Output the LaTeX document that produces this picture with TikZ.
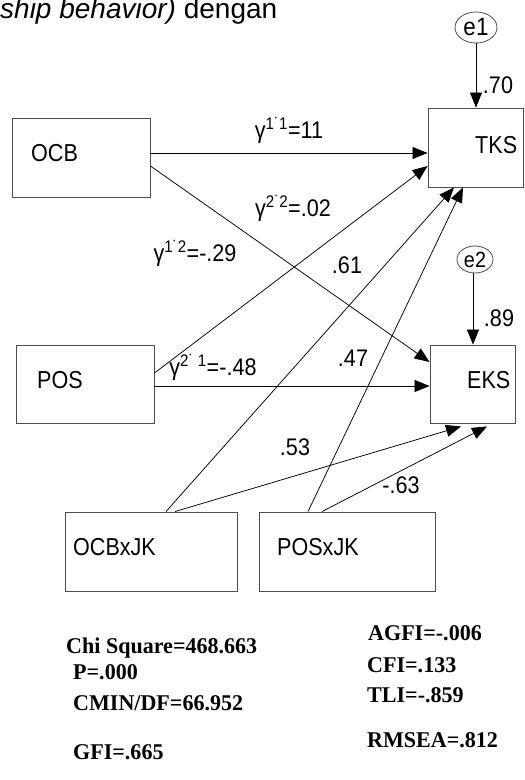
\documentclass[tikz,border=0pt]{standalone}
\usepackage{fontspec}
\usepackage{graphicx}
\setmainfont{Liberation Sans}
\newfontfamily\statfont{Liberation Serif}
\usetikzlibrary{arrows.meta,shapes.geometric}
\newcommand\lbl[1]{{\fontsize{24}{24}\selectfont\scalebox{0.9}[1]{#1}}}
\newcommand\bxt[1]{{\fontsize{24.5}{24.5}\selectfont\scalebox{0.88}[1]{#1}}}
\newcommand\stt[1]{{\statfont\bfseries\fontsize{22.5}{22.5}\selectfont\scalebox{0.98}[1]{#1}}}
\tikzset{
  box/.style={draw=black!70,line width=0.9pt,rectangle,inner sep=0pt},
  err/.style={draw=black!70,line width=0.8pt,ellipse,inner sep=0pt},
  conn/.style={line width=0.75pt,-{Triangle[length=15pt,width=12pt]}},
  txt/.style={inner sep=0pt,anchor=west},
  lab/.style={inner sep=0pt}
}
\begin{document}
\begin{tikzpicture}[x=1pt,y=-1pt]
\useasboundingbox[fill=white] (0,0) rectangle (525,780);
% title fragment
\node[inner sep=0pt,anchor=base west] (title) at (0,18) {\fontsize{28}{28}\selectfont\itshape ship behavior)\upshape{} dengan};
% boxes
\node[box,minimum width=138pt,minimum height=79pt] (ocb) at (81,157.5) {};
\node[box,minimum width=95pt,minimum height=79pt] (tks) at (475.5,147.5) {};
\node[box,minimum width=138pt,minimum height=78pt] (pos) at (85,384) {};
\node[box,minimum width=85pt,minimum height=78pt] (eks) at (472.5,384) {};
\node[box,minimum width=172pt,minimum height=79pt] (ocbjk) at (151,551.5) {};
\node[box,minimum width=176pt,minimum height=79pt] (posjk) at (347,551.5) {};
% box texts
\node[txt] (tocb) at (31,153) {\bxt{OCB}};
\node[txt] (ttks) at (475,145) {\bxt{TKS}};
\node[txt] (tpos) at (37,380) {\bxt{POS}};
\node[txt] (teks) at (467,380) {\bxt{EKS}};
\node[txt] (tocbjk) at (73,547) {\bxt{OCBxJK}};
\node[txt] (tposjk) at (277,547) {\bxt{POSxJK}};
% error terms
\node[err,minimum width=42pt,minimum height=31pt] (e1) at (476,27.5) {\fontsize{25}{25}\selectfont\scalebox{0.9}[1]{e1}};
\node[err,minimum width=36pt,minimum height=27pt] (e2) at (475,259.5) {\fontsize{22}{22}\selectfont\scalebox{0.9}[1]{e2}};
\draw[conn] (e1.south) -- (tks.north -| e1.south);
\draw[conn] (e2.south -| 473,0) -- (eks.north -| 473,0);
% paths
\draw[conn] (ocb.east |- 0,153) -- (tks.west |- 0,153);
\draw[conn] (ocb.east |- 0,166) -- (eks.west |- 0,362);
\draw[conn] (pos.east |- 0,386) -- (eks.west |- 0,386);
\draw[conn] (pos.east |- 0,373) -- (tks.west |- 0,166);
\draw[conn] (ocbjk.north -| 166,0) -- (tks.south -| 454,0);
\draw[conn] (posjk.north -| 308,0) -- (tks.south -| 463,0);
\draw[conn] (ocbjk.north -| 175,0) -- ([yshift=-3pt]eks.south -| 461,0);
\draw[conn] (posjk.north -| 322,0) -- ([yshift=-3pt]eks.south -| 487,0);
% coefficient labels
\node[lab] (l1) at (289,130) {\lbl{γ\textsuperscript{1˙1}=11}};
\node[lab] (l2) at (293,208) {\lbl{γ\textsuperscript{2˙2}=.02}};
\node[lab] (l3) at (195,253) {\lbl{γ\textsuperscript{1˙2}=-.29}};
\node[lab] (l4) at (213,367) {\lbl{γ\textsuperscript{2˙ 1}=-.48}};
\node[lab] (l5) at (347,265) {\lbl{.61}};
\node[lab] (l6) at (353,358) {\lbl{.47}};
\node[lab] (l7) at (295,447) {\lbl{.53}};
\node[lab] (l8) at (401,485) {\lbl{-.63}};
\node[lab] (l9) at (498,85) {\lbl{.70}};
\node[lab] (l10) at (499,318) {\lbl{.89}};
% fit statistics
\node[txt] (s1) at (66,648) {\stt{Chi Square=468.663}};
\node[txt] (s2) at (73,672) {\stt{P=.000}};
\node[txt] (s3) at (73,703) {\stt{CMIN/DF=66.952}};
\node[txt] (s4) at (73,752) {\stt{GFI=.665}};
\node[txt] (s5) at (368,633) {\stt{AGFI=-.006}};
\node[txt] (s6) at (367,665) {\stt{CFI=.133}};
\node[txt] (s7) at (367,695) {\stt{TLI=-.859}};
\node[txt] (s8) at (367,740) {\stt{RMSEA=.812}};
\end{tikzpicture}
\end{document}
